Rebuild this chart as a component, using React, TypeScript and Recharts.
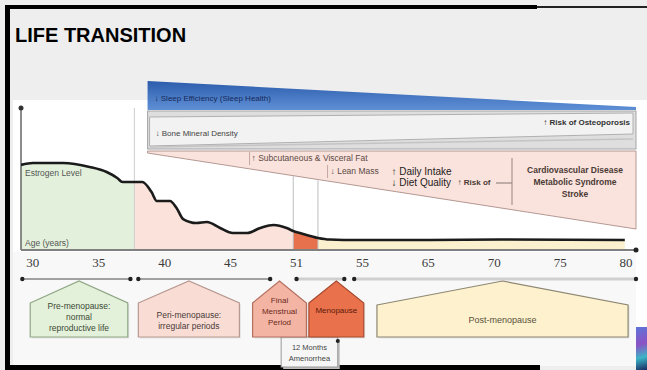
import React from "react";
import {
  ComposedChart,
  Area,
  Line,
  XAxis,
  YAxis,
  ReferenceArea,
  ReferenceLine,
  ReferenceDot,
} from "recharts";

// timeline ticks (the axis is evenly spaced per tick, not per year)
const AGE_TICKS = [30, 35, 40, 45, 51, 55, 65, 70, 75, 80];
const AXIS_START = 29.1;
const AXIS_END = 80.75;

// estrogen curve (arbitrary 0-100 units)
const CURVE_AGES = [
  29.1, 30.0, 32.3, 34.3, 35.6, 36.4, 36.8, 37.7, 38.3, 39.0, 39.4, 40.4, 40.9,
  41.4, 42.4, 43.2, 44.2, 45.2, 46.5, 47.7, 48.9, 50.1, 50.7, 51.2, 52.3, 53.0,
  54.7, 65.1, 70.4, 79.9,
];
const ESTROGEN_LEVEL = [
  59.9, 61.3, 61.3, 58.5, 54.9, 50.7, 47.9, 47.9, 47.9, 40.8, 34.5, 34.5, 29.6,
  21.8, 19.0, 19.7, 15.5, 12.0, 12.0, 15.5, 17.6, 15.5, 13.4, 12.0, 8.5, 7.4,
  7.0, 7.0, 7.4, 7.0,
];

// stage shading under the curve
const STAGE_KEYS = ["pre", "peri", "fmp", "post"];
const STAGE_EDGES = [29.1, 37.7, 50.7, 52.3, 79.9];

// phase boxes under the timeline
const PHASE_LABELS = [
  ["Pre-menopause:", "normal", "reproductive life"],
  ["Peri-menopause:", "irregular periods"],
  ["Final", "Menstrual", "Period"],
  ["Menopause"],
  ["Post-menopause"],
];
const PHASE_FROM = [29.8, 38.0, 47.0, 51.75, 57.2];
const PHASE_TO = [37.2, 45.8, 51.6, 55.2, 80.15];

const TIMELINE_FROM = [29.2, 38.0, 51.0, 54.5];
const TIMELINE_TO = [37.4, 48.6, 53.9, 80.75];

const AMENORRHEA_RANGE = [49.6, 53.5];
const AMENORRHEA_LABEL = ["12 Months", "Amenorrhea"];

const EFFECTS_RANGE = [38.7, 80.75];

function agePos(age: number) {
  const t = AGE_TICKS;
  const n = t.length;
  if (age <= t[0]) return (age - t[0]) / 5;
  if (age >= t[n - 1]) return n - 1 + (age - t[n - 1]) / 5;
  for (let i = 0; i < n - 1; i++) {
    if (age <= t[i + 1]) return i + (age - t[i]) / (t[i + 1] - t[i]);
  }
  return n - 1;
}

const rows = CURVE_AGES.map((age, i) => {
  const row: Record<string, number | null> = { pos: agePos(age), level: ESTROGEN_LEVEL[i] };
  STAGE_KEYS.forEach((k, s) => {
    const inside = age >= STAGE_EDGES[s] - 1e-6 && age <= STAGE_EDGES[s + 1] + 1e-6;
    row[k] = inside ? ESTROGEN_LEVEL[i] : null;
  });
  return row;
});

const SANS = "'Liberation Sans', Arial, sans-serif";

const STAGE_FILL: Record<string, string> = {
  pre: "#e3f1dc",
  peri: "#fbe3dc",
  fmp: "#e8714d",
  post: "#fcf1cf",
};

const PHASE_STYLE = [
  { fill: "#e3f0da", stroke: "#8fa784", text: "#3b4a34", lines: [307, 318, 329], size: 8.5, shoulder: 303 },
  { fill: "#f9ddd5", stroke: "#b89a92", text: "#4a3a36", lines: [316, 327], size: 8.5, shoulder: 303 },
  { fill: "#f3b4a4", stroke: "#b36f5e", text: "#6b2a1a", lines: [301, 312, 323], size: 8, shoulder: 303 },
  { fill: "#e9714c", stroke: "#a74a2f", text: "#5a1a08", lines: [311], size: 8, shoulder: 303 },
  { fill: "#fdf2cd", stroke: "#8d8672", text: "#5a5040", lines: [321], size: 9, shoulder: 305 },
];

function Pentagon(props: any) {
  const { x, width, idx } = props;
  const st = PHASE_STYLE[idx];
  const peak = 281;
  const bottom = 337;
  const r = x + width;
  const pts = `${x},${st.shoulder} ${x + width / 2},${peak} ${r},${st.shoulder} ${r},${bottom} ${x},${bottom}`;
  return (
    <g fontFamily={SANS}>
      <polygon points={pts} fill="#000" opacity={0.08} transform="translate(1.5,1.5)" />
      <polygon points={pts} fill={st.fill} stroke={st.stroke} strokeWidth={1.2} />
      {PHASE_LABELS[idx].map((s, k) => (
        <text
          key={k}
          x={x + width / 2}
          y={st.lines[k]}
          textAnchor="middle"
          dominantBaseline="middle"
          fontSize={st.size}
          fill={st.text}
        >
          {s}
        </text>
      ))}
    </g>
  );
}

function TimelineSegment(props: any) {
  const { x, width, idx } = props;
  const y = 279;
  const pale = idx >= 2;
  return (
    <g>
      <line
        x1={x}
        x2={x + width}
        y1={y}
        y2={y}
        stroke={pale ? "#cfcfcf" : "#4a4a4a"}
        strokeWidth={pale ? 3 : 1.2}
      />
      <circle cx={x} cy={y} r={2.2} fill="#222" />
      <circle cx={x + width} cy={y} r={2.2} fill="#222" />
    </g>
  );
}

function Amenorrhea(props: any) {
  const { x, width } = props;
  return (
    <g fontFamily={SANS}>
      <rect x={x + 2} y={339} width={width} height={30} fill="#bdbdbd" />
      <rect x={x} y={337} width={width} height={30} fill="#f6f6f6" stroke="#9a9a9a" strokeWidth={1} />
      {AMENORRHEA_LABEL.map((s, k) => (
        <text
          key={k}
          x={x + width / 2}
          y={348 + k * 11}
          textAnchor="middle"
          dominantBaseline="middle"
          fontSize={7.5}
          fill="#444"
        >
          {s}
        </text>
      ))}
      <circle cx={x + width} cy={341} r={2} fill="#222" />
    </g>
  );
}

function AxisLabels(props: any) {
  const { x, y, height } = props;
  return (
    <g fontFamily={SANS} fontSize={8.5} fill="#555">
      <line x1={x} x2={x} y1={y} y2={y + height} stroke="#666" strokeWidth={1.5} />
      <text x={x + 4} y={174} dominantBaseline="middle">Estrogen Level</text>
      <text x={x + 4} y={244} dominantBaseline="middle">Age (years)</text>
    </g>
  );
}

function EffectsPanel(props: any) {
  const { x, width } = props;
  const L = x;
  const R = x + width;
  return (
    <g fontFamily={SANS}>
      <defs>
        <linearGradient id="sleepFill" x1="0" y1="0" x2="0" y2="1">
          <stop offset="0" stopColor="#2c5cab" />
          <stop offset="1" stopColor="#5f90d6" />
        </linearGradient>
      </defs>
      {/* sleep wedge */}
      <polygon points={`${L},81 ${R},107 ${R},110 ${L},110`} fill="url(#sleepFill)" />
      <text x={L + 7} y={99} fontSize={8} fill="#16295a" dominantBaseline="middle">
        ↓ Sleep Efficiency (Sleep Health)
      </text>

      {/* bone band */}
      <rect x={L} y={111} width={width} height={38} fill="#dedede" stroke="#a5a5a5" strokeWidth={1} />
      <polygon
        points={`${L + 2},117 ${R - 3},113 ${R - 3},134 ${L + 2},146`}
        fill="#f2f2f2"
        stroke="#b0b0b0"
        strokeWidth={1}
      />
      <line x1={L + 2} y1={147} x2={R - 3} y2={139} stroke="#c4c4c4" strokeWidth={1.5} />
      <text x={L + 8} y={134} fontSize={8} fill="#444" dominantBaseline="middle">
        ↓ Bone Mineral Density
      </text>
      <text x={R - 6} y={123} fontSize={8} fontWeight="bold" fill="#333" textAnchor="end" dominantBaseline="middle">
        ↑ Risk of Osteoporosis
      </text>

      {/* body composition / risk wedge */}
      <polygon
        points={`${L},151 ${R},151 ${R},229 ${L},153`}
        fill="#fae3dc"
        stroke="#b49893"
        strokeWidth={1}
      />
      <line x1={L + 102} y1={152} x2={L + 102} y2={165} stroke="#b49893" strokeWidth={0.8} />
      <text x={L + 104} y={159} fontSize={8.5} fill="#5a4a46" dominantBaseline="middle">
        ↑ Subcutaneous &amp; Visceral Fat
      </text>
      <line x1={L + 180} y1={165} x2={L + 180} y2={178} stroke="#b49893" strokeWidth={0.8} />
      <text x={L + 183} y={172} fontSize={8.5} fill="#5a4a46" dominantBaseline="middle">
        ↓ Lean Mass
      </text>
      <text x={L + 244} y={172} fontSize={10} fill="#1a1a1a" dominantBaseline="middle">
        ↑ Daily Intake
      </text>
      <text x={L + 244} y={183} fontSize={10} fill="#1a1a1a" dominantBaseline="middle">
        ↓ Diet Quality
      </text>
      <text x={L + 310} y={183} fontSize={8} fontWeight="bold" fill="#4a3a36" dominantBaseline="middle">
        ↑ Risk of
      </text>
      <line x1={R - 140} y1={183} x2={R - 124} y2={183} stroke="#6a5a56" strokeWidth={0.8} />
      <line x1={R - 124} y1={158} x2={R - 124} y2={205} stroke="#9a8480" strokeWidth={1} />
      {["Cardiovascular Disease", "Metabolic Syndrome", "Stroke"].map((s, k) => (
        <text
          key={k}
          x={R - 61}
          y={171 + k * 12}
          fontSize={8.5}
          fontWeight="bold"
          fill="#4a3a36"
          textAnchor="middle"
          dominantBaseline="middle"
        >
          {s}
        </text>
      ))}
    </g>
  );
}

export default function App() {
  const xDomain = [agePos(AXIS_START), agePos(AXIS_END)];
  const ticks = AGE_TICKS.map(agePos);

  return (
    <div
      style={{
        position: "absolute",
        left: 0,
        top: 0,
        width: 647,
        height: 370,
        background: "#eeeeee",
        overflow: "hidden",
      }}
    >
      {/* panels */}
      <div style={{ position: "absolute", left: 13, top: 100, width: 634, height: 152, background: "#ffffff" }} />
      <div style={{ position: "absolute", left: 13, top: 252, width: 623, height: 114, background: "#f8f8f8" }} />
      <div style={{ position: "absolute", left: 636, top: 252, width: 11, height: 75, background: "#ffffff" }} />
      <div
        style={{
          position: "absolute",
          left: 636,
          top: 327,
          width: 11,
          height: 43,
          background: "linear-gradient(165deg, #5d74d8, #8b52c4 40%, #3bb4c6 70%, #1b2a62)",
        }}
      />
      {/* frame */}
      <div style={{ position: "absolute", left: 5, top: 5, width: 532, height: 4, background: "#000" }} />
      <div style={{ position: "absolute", left: 537, top: 6, width: 110, height: 2, background: "#222" }} />
      <div style={{ position: "absolute", left: 5, top: 5, width: 5, height: 365, background: "#000" }} />
      <div style={{ position: "absolute", left: 5, top: 365, width: 535, height: 5, background: "#000" }} />

      <div
        style={{
          position: "absolute",
          left: 15,
          top: 24,
          fontFamily: SANS,
          fontWeight: "bold",
          fontSize: 20,
          color: "#000",
          lineHeight: "23px",
          whiteSpace: "nowrap",
        }}
      >
        LIFE TRANSITION
      </div>

      <div style={{ position: "absolute", left: 0, top: 0 }}>
        <ComposedChart
          width={647}
          height={370}
          data={rows}
          margin={{ top: 108, right: 11, bottom: 90, left: 21 }}
        >
          <XAxis
            dataKey="pos"
            type="number"
            domain={xDomain}
            allowDataOverflow
            ticks={ticks}
            interval={0}
            tickLine={false}
            tickFormatter={(v: number) => String(AGE_TICKS[Math.round(v)])}
            tick={{ fontSize: 13, fill: "#3a3a3a", fontFamily: "'Liberation Serif', serif" }}
            axisLine={{ stroke: "#808080", strokeWidth: 2 }}
            height={30}
          />
          <YAxis type="number" domain={[0, 100]} width={0} tick={false} tickLine={false} axisLine={false} />

          <ReferenceLine x={agePos(STAGE_EDGES[1])} stroke="#cfcfcf" strokeWidth={1} ifOverflow="visible" />
          <ReferenceLine
            segment={[
              { x: agePos(STAGE_EDGES[2]), y: 52 },
              { x: agePos(STAGE_EDGES[2]), y: 0 },
            ]}
            stroke="#bdbdbd"
            strokeWidth={1}
            ifOverflow="visible"
          />
          <ReferenceLine
            segment={[
              { x: agePos(STAGE_EDGES[3]), y: 49 },
              { x: agePos(STAGE_EDGES[3]), y: 0 },
            ]}
            stroke="#bdbdbd"
            strokeWidth={1}
            ifOverflow="visible"
          />

          {STAGE_KEYS.map((k) => (
            <Area
              key={k}
              dataKey={k}
              type="monotone"
              stroke="none"
              fill={STAGE_FILL[k]}
              fillOpacity={1}
              isAnimationActive={false}
              connectNulls={false}
              activeDot={false}
            />
          ))}
          <Line
            dataKey="level"
            type="monotone"
            stroke="#1b1b1b"
            strokeWidth={2.6}
            dot={false}
            activeDot={false}
            isAnimationActive={false}
          />

          <ReferenceArea
            x1={agePos(AXIS_START)}
            x2={agePos(STAGE_EDGES[1])}
            ifOverflow="visible"
            shape={(p: any) => <AxisLabels {...p} />}
          />

          <ReferenceArea
            x1={agePos(EFFECTS_RANGE[0])}
            x2={agePos(EFFECTS_RANGE[1])}
            ifOverflow="visible"
            shape={(p: any) => <EffectsPanel {...p} />}
          />

          {TIMELINE_FROM.map((a, i) => (
            <ReferenceArea
              key={`seg-${i}`}
              x1={agePos(a)}
              x2={agePos(TIMELINE_TO[i])}
              ifOverflow="visible"
              shape={(p: any) => <TimelineSegment {...p} idx={i} />}
            />
          ))}

          <ReferenceArea
            x1={agePos(AMENORRHEA_RANGE[0])}
            x2={agePos(AMENORRHEA_RANGE[1])}
            ifOverflow="visible"
            shape={(p: any) => <Amenorrhea {...p} />}
          />

          {PHASE_FROM.map((a, i) => (
            <ReferenceArea
              key={`phase-${i}`}
              x1={agePos(a)}
              x2={agePos(PHASE_TO[i])}
              ifOverflow="visible"
              shape={(p: any) => <Pentagon {...p} idx={i} />}
            />
          ))}

          <ReferenceDot x={agePos(AXIS_START)} y={100} r={2.5} fill="#333" stroke="none" ifOverflow="visible" />
          <ReferenceDot x={agePos(AXIS_END)} y={0} r={2.5} fill="#222" stroke="none" ifOverflow="visible" />
        </ComposedChart>
      </div>
    </div>
  );
}
